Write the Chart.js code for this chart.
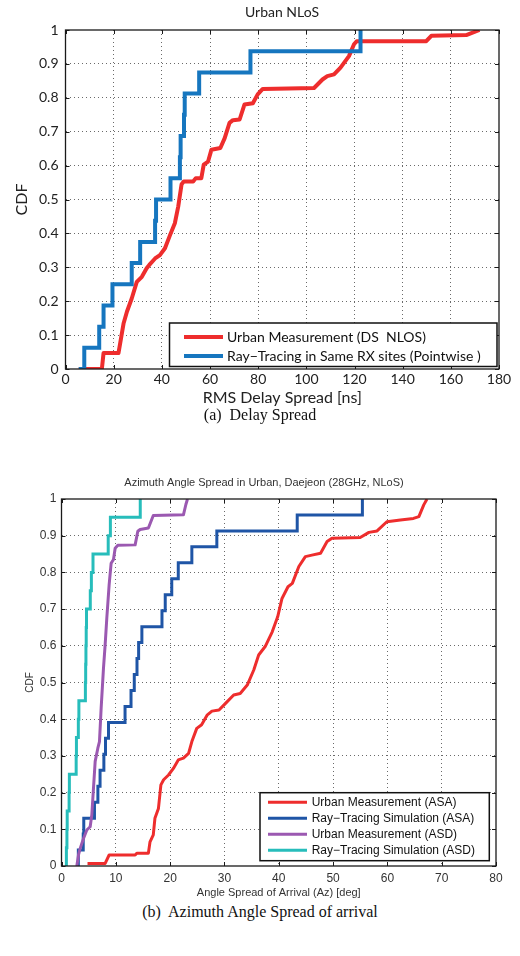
<!DOCTYPE html>
<html><head><meta charset="utf-8">
<script src="https://cdn.jsdelivr.net/npm/chart.js@4/dist/chart.umd.min.js"></script>
<style>
html,body{margin:0;padding:0;background:#fff;width:520px;height:956px;overflow:hidden;}
#c1{position:absolute;left:0;top:0;}
#c2{position:absolute;left:0;top:470px;}
.cap{position:absolute;left:0;width:520px;text-align:center;font-family:"Liberation Serif","DejaVu Serif",serif;font-size:16px;color:#111;line-height:20px;}
</style></head><body>
<canvas id="c1" width="520" height="410"></canvas>
<div class="cap" style="top:405px">(a)&nbsp; Delay Spread</div>
<canvas id="c2" width="520" height="430"></canvas>
<div class="cap" style="top:902px">(b)&nbsp; Azimuth Angle Spread of arrival</div>
<script>
// ---------- Chart (a): Delay spread CDF ----------
const dsTitle = 'Urban NLoS';
const dsXTicks = [0,20,40,60,80,100,120,140,160,180];
const dsMeasLabel = 'Urban Measurement (DS  NLOS)';
const dsMeasX = [5.5,15.1,15.8,22.0,24.1,25.5,27.5,29.6,31.7,33.7,34.8,37.2,39.2,41.3,43.4,45.4,46.8,48.2,49.1,53.0,54.1,56.4,57.4,59.2,60.6,64.3,66.1,68.1,69.5,72.3,74.3,77.8,79.8,81.9,103.2,106.7,108.7,111.5,114.2,117.7,119.8,120.9,149.8,151.9,166.4,171.9];
const dsMeasY = [0,0,0.047,0.047,0.134,0.169,0.208,0.257,0.272,0.297,0.307,0.326,0.336,0.356,0.395,0.43,0.479,0.545,0.553,0.553,0.563,0.563,0.603,0.612,0.647,0.652,0.681,0.726,0.734,0.736,0.78,0.784,0.81,0.826,0.829,0.854,0.864,0.869,0.889,0.923,0.958,0.967,0.967,0.983,0.985,1.0];
const dsRTLabel = 'Ray\u2212Tracing in Same RX sites (Pointwise )';
const dsRTX = [5.5,7.8,14,15.8,19.5,27.5,31,37.2,37.6,43.6,47.5,47.8,49.2,49.5,55.5,76.8,122.5];
const dsRTY = [0,0.0625,0.125,0.1875,0.25,0.3125,0.375,0.4375,0.5,0.5625,0.625,0.6875,0.75,0.8125,0.875,0.9375,1.0];

// ---------- Chart (b): Azimuth angle spread CDF ----------
const asTitle = 'Azimuth Angle Spread in Urban, Daejeon (28GHz, NLoS)';
const asXTicks = [0,10,20,30,40,50,60,70,80];
const cdfTicks = [0,0.1,0.2,0.3,0.4,0.5,0.6,0.7,0.8,0.9,1];
const asaMeasLabel = 'Urban Measurement (ASA)';
const asaMeasX = [4.79,8.04,8.77,13.56,13.87,16.0,16.3,16.9,17.2,17.85,18.3,18.8,19.7,20.6,21.5,22.45,23.4,24.0,24.9,25.8,26.8,27.7,29.0,30.2,31.7,32.9,34.2,35.4,36.3,37.5,38.8,39.8,40.6,41.7,42.5,43.7,44.9,46.1,47.7,48.9,49.8,55.0,56.6,58.1,59.9,62.4,64.8,65.8,66.7,67.3];
const asaMeasY = [0.007,0.007,0.03,0.03,0.035,0.035,0.066,0.085,0.13,0.157,0.221,0.235,0.248,0.266,0.289,0.294,0.307,0.339,0.375,0.385,0.411,0.422,0.425,0.443,0.466,0.47,0.493,0.534,0.575,0.598,0.638,0.679,0.729,0.761,0.77,0.816,0.843,0.847,0.852,0.884,0.893,0.895,0.909,0.913,0.938,0.943,0.947,0.952,0.984,1.0];
const asaRTLabel = 'Ray\u2212Tracing Simulation (ASA)';
const asaRTX = [3.0,3.1,4.0,4.1,6.07,6.7,7.1,7.8,8.1,8.65,11.7,12.8,13.4,13.9,14.2,14.8,18.5,19.1,20.3,21.5,24.0,28.6,43.4,55.4];
const asaRTY = [0,0.0435,0.087,0.1304,0.1739,0.2174,0.2609,0.3043,0.3478,0.3913,0.4348,0.4783,0.5217,0.5652,0.6087,0.6522,0.6957,0.7391,0.7826,0.8261,0.8696,0.913,0.9565,1.0];
const asdMeasLabel = 'Urban Measurement (ASD)';
const asdMeasX = [2.82,3.13,3.44,4.05,4.66,5.28,5.58,5.89,6.2,6.69,6.99,7.3,7.73,8.04,8.34,8.77,9.14,9.57,9.88,10.37,13.56,14.05,14.48,16.0,16.9,22.45,22.9,23.2];
const asdMeasY = [0,0.03,0.048,0.075,0.098,0.107,0.139,0.212,0.285,0.321,0.339,0.43,0.539,0.603,0.675,0.766,0.825,0.835,0.866,0.874,0.875,0.912,0.917,0.921,0.955,0.957,0.985,1.0];
const asdRTLabel = 'Ray\u2212Tracing Simulation (ASD)';
const asdRTX = [0.86,0.9,1.0,1.05,1.4,1.45,2.7,2.75,3.1,3.2,4.4,4.45,4.5,4.55,4.6,5.3,5.5,5.8,8.6,9.0,14.5];
const asdRTY = [0,0.05,0.1,0.15,0.2,0.25,0.3,0.35,0.4,0.45,0.5,0.55,0.6,0.65,0.7,0.75,0.8,0.85,0.9,0.95,1.0];

const pts = (xs, ys) => xs.map((x, i) => ({x: x, y: ys[i]}));
const fmtCdf = v => (Math.abs(v) < 1e-9 ? '0' : Math.abs(v - 1) < 1e-9 ? '1' : v.toFixed(1));

const framePlugin = {
  id: 'frame',
  afterDraw(chart, args, o) {
    const {ctx, chartArea: a, scales} = chart;
    ctx.save();
    ctx.strokeStyle = '#1a1a1a';
    ctx.lineWidth = 1;
    ctx.beginPath();
    scales.x.ticks.forEach(t => {
      const px = Math.round(scales.x.getPixelForValue(t.value)) + 0.5;
      ctx.moveTo(px, a.bottom); ctx.lineTo(px, a.bottom - o.tickLen);
      ctx.moveTo(px, a.top); ctx.lineTo(px, a.top + o.tickLen);
    });
    scales.y.ticks.forEach(t => {
      const py = Math.round(scales.y.getPixelForValue(t.value)) + 0.5;
      ctx.moveTo(a.left, py); ctx.lineTo(a.left + o.tickLen, py);
      ctx.moveTo(a.right, py); ctx.lineTo(a.right - o.tickLen, py);
    });
    ctx.stroke();
    ctx.lineWidth = o.frameW;
    ctx.strokeRect(a.left, a.top, a.right - a.left, a.bottom - a.top);
    // title
    ctx.fillStyle = o.titleColor;
    ctx.font = o.titleFont;
    ctx.textAlign = 'center';
    ctx.textBaseline = 'middle';
    ctx.fillText(o.title, o.titleX, o.titleY);
    // legend
    const L = o.legend;
    ctx.fillStyle = '#fff';
    ctx.fillRect(L.x0, L.y0, L.x1 - L.x0, L.y1 - L.y0);
    ctx.lineWidth = 1.5;
    ctx.strokeStyle = '#111';
    ctx.strokeRect(L.x0, L.y0, L.x1 - L.x0, L.y1 - L.y0);
    ctx.font = L.font;
    ctx.textAlign = 'left';
    chart.data.datasets.forEach((d, i) => {
      const y = L.rowY0 + i * L.rowH;
      ctx.strokeStyle = d.borderColor;
      ctx.lineWidth = L.lineW;
      ctx.beginPath(); ctx.moveTo(L.lx0, y); ctx.lineTo(L.lx1, y); ctx.stroke();
      ctx.fillStyle = '#111';
      ctx.fillText(d.label, L.tx, y + 0.5);
    });
    ctx.restore();
  }
};

function gridColor(c) {
  const n = c.scale.ticks.length;
  return (c.index === 0 || c.index === n - 1) ? 'rgba(0,0,0,0)' : '#6a6a6a';
}

// ---------- build chart (a) ----------
const fontA = '"Lato","Open Sans",sans-serif';
new Chart(document.getElementById('c1'), {
  type: 'line',
  data: {
    datasets: [
      {label: dsMeasLabel, data: pts(dsMeasX, dsMeasY), borderColor: '#ee2d2d', borderWidth: 4, pointRadius: 0, tension: 0, borderJoinStyle: 'round', order: 2},
      {label: dsRTLabel, data: pts(dsRTX, dsRTY), borderColor: '#1676bf', borderWidth: 4, pointRadius: 0, stepped: true, order: 1}
    ]
  },
  options: {
    responsive: false, animation: false, events: [],
    layout: {padding: {top: 30, right: 21, left: 0, bottom: 0}},
    plugins: {
      legend: {display: false}, tooltip: {enabled: false},
      frame: {tickLen: 4, frameW: 1.3, title: dsTitle, titleX: 282, titleY: 12, titleFont: '14px ' + fontA, titleColor: '#222',
        legend: {x0: 169.5, y0: 323, x1: 497, y1: 366.5, lx0: 184, lx1: 223, tx: 227, rowY0: 337, rowH: 19, lineW: 4, font: '14px ' + fontA}}
    },
    scales: {
      x: {type: 'linear', min: 0, max: 180,
        afterFit: s => { s.height = 41; },
        afterBuildTicks: s => { s.ticks = dsXTicks.map(v => ({value: v})); },
        ticks: {font: {family: fontA, size: 14}, color: '#222', padding: 2, maxRotation: 0},
        grid: {color: gridColor, lineWidth: 1, drawTicks: false},
        border: {display: false, dash: [1, 3]},
        title: {display: true, text: 'RMS Delay Spread [ns]', font: {family: fontA, size: 16}, color: '#222', padding: {top: 0, bottom: 2.4}}
      },
      y: {type: 'linear', min: 0, max: 1,
        afterFit: s => { s.width = 65.5; },
        afterBuildTicks: s => { s.ticks = cdfTicks.map(v => ({value: v})); },
        ticks: {font: {family: fontA, size: 14}, color: '#222', padding: 7, callback: fmtCdf},
        grid: {color: gridColor, lineWidth: 1, drawTicks: false},
        border: {display: false, dash: [1, 3]},
        title: {display: true, text: 'CDF', font: {family: fontA, size: 16}, color: '#222', padding: {top: 12.4, bottom: 0}}
      }
    }
  },
  plugins: [framePlugin]
});

// ---------- build chart (b) ----------
const fontB = '"Liberation Sans","Arial",sans-serif';
new Chart(document.getElementById('c2'), {
  type: 'line',
  data: {
    datasets: [
      {label: asaMeasLabel, data: pts(asaMeasX, asaMeasY), borderColor: '#ee2d2d', borderWidth: 3, pointRadius: 0, tension: 0, borderJoinStyle: 'round', order: 4},
      {label: asaRTLabel, data: pts(asaRTX, asaRTY), borderColor: '#1f55a6', borderWidth: 3, pointRadius: 0, stepped: true, order: 3},
      {label: asdMeasLabel, data: pts(asdMeasX, asdMeasY), borderColor: '#9b59b1', borderWidth: 3, pointRadius: 0, tension: 0, borderJoinStyle: 'round', order: 2},
      {label: asdRTLabel, data: pts(asdRTX, asdRTY), borderColor: '#27bdbb', borderWidth: 3, pointRadius: 0, stepped: true, order: 1}
    ]
  },
  options: {
    responsive: false, animation: false, events: [],
    layout: {padding: {top: 29, right: 24, left: 0, bottom: 0}},
    plugins: {
      legend: {display: false}, tooltip: {enabled: false},
      frame: {tickLen: 4, frameW: 1.3, title: asTitle, titleX: 264, titleY: 13, titleFont: '11px ' + fontB, titleColor: '#333',
        legend: {x0: 260, y0: 322.7, x1: 489.3, y1: 390.7, lx0: 268, lx1: 307, tx: 311.7, rowY0: 332.3, rowH: 16, lineW: 3, font: '12px ' + fontB}}
    },
    scales: {
      x: {type: 'linear', min: 0, max: 80,
        afterFit: s => { s.height = 34; },
        afterBuildTicks: s => { s.ticks = asXTicks.map(v => ({value: v})); },
        ticks: {font: {family: fontB, size: 12}, color: '#333', padding: 5, maxRotation: 0},
        grid: {color: gridColor, lineWidth: 1, drawTicks: false},
        border: {display: false, dash: [1, 3]},
        title: {display: true, text: 'Angle Spread of Arrival (Az) [deg]', font: {family: fontB, size: 11}, color: '#333', padding: {top: 0, bottom: 0.4}}
      },
      y: {type: 'linear', min: 0, max: 1,
        afterFit: s => { s.width = 61.5; },
        afterBuildTicks: s => { s.ticks = cdfTicks.map(v => ({value: v})); },
        ticks: {font: {family: fontB, size: 12}, color: '#333', padding: 5, callback: fmtCdf},
        grid: {color: gridColor, lineWidth: 1, drawTicks: false},
        border: {display: false, dash: [1, 3]},
        title: {display: true, text: 'CDF', font: {family: fontB, size: 10}, color: '#333', padding: {top: 24, bottom: 0}}
      }
    }
  },
  plugins: [framePlugin]
});
</script>
</body></html>
